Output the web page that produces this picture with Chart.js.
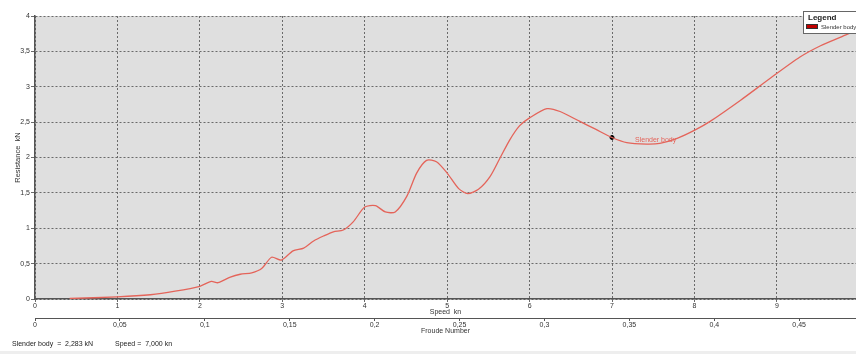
<!DOCTYPE html>
<html>
<head>
<meta charset="utf-8">
<script src="https://cdn.jsdelivr.net/npm/chart.js@4.4.1/dist/chart.umd.min.js"></script>
<style>
  html, body { margin: 0; padding: 0; background: #fff; }
  #wrap { width: 856px; height: 354px; }
</style>
</head>
<body>
<div id="wrap"><canvas id="resistanceChart" width="856" height="354"></canvas></div>
<script>
// values
const seriesName = "Slender body";
const speedKn = [0.42, 1.0, 1.4, 1.7, 2.0, 2.14, 2.22, 2.37, 2.49, 2.63, 2.75, 2.87, 2.99, 3.13, 3.26, 3.38, 3.5, 3.62, 3.74, 3.86,
  4.0, 4.13, 4.25, 4.37, 4.51, 4.63, 4.75, 4.87, 5.0, 5.14, 5.25, 5.38, 5.52, 5.64, 5.76, 5.88, 6.0, 6.21, 6.37, 6.61,
  6.8, 7.0, 7.18, 7.42, 7.58, 7.79, 8.01, 8.19, 8.56, 8.92, 9.28, 9.53, 9.83, 9.96];
const resistanceKn = [0.007, 0.03, 0.06, 0.11, 0.18, 0.25, 0.23, 0.31, 0.35, 0.37, 0.43, 0.59, 0.55, 0.68, 0.72, 0.82, 0.89, 0.95, 0.975, 1.09,
  1.30, 1.32, 1.23, 1.23, 1.45, 1.78, 1.96, 1.94, 1.78, 1.56, 1.49, 1.55, 1.73, 1.99, 2.25, 2.45, 2.56, 2.69, 2.65, 2.51,
  2.40, 2.283, 2.21, 2.19, 2.20, 2.27, 2.39, 2.51, 2.81, 3.12, 3.42, 3.58, 3.73, 3.80];
const speedTicks = [0, 1, 2, 3, 4, 5, 6, 7, 8, 9];
const froudeTicks = [0, 0.05, 0.1, 0.15, 0.2, 0.25, 0.3, 0.35, 0.4, 0.45];
const resistanceTicks = [0, 0.5, 1, 1.5, 2, 2.5, 3, 3.5, 4];
const cursorSpeed = [7.0];
const cursorResistance = [2.283];

const speedMax = 9.96;
const froudePerKnot = 0.04854;
const lineColor = "rgb(228, 100, 90)";
const gridColor = "#6a6a6a";
const axisColor = "#555";
const fontFamily = "'Liberation Sans', Arial, sans-serif";

const comma = (v) => String(Math.round(v * 1000) / 1000).replace(".", ",");

const plotBackground = {
  id: "plotBackground",
  beforeDraw(chart) {
    const { ctx, chartArea: a } = chart;
    ctx.save();
    ctx.fillStyle = "#dfdfdf";
    ctx.fillRect(a.left, a.top, a.right - a.left, a.bottom - a.top);
    ctx.restore();
  },
};

const overlay = {
  id: "overlay",
  afterDraw(chart) {
    const { ctx } = chart;
    const xs = chart.scales.x;
    const ys = chart.scales.y;
    ctx.save();

    // label next to cursor point
    const px = xs.getPixelForValue(cursorSpeed[0]);
    const py = ys.getPixelForValue(cursorResistance[0]);
    ctx.font = "7px " + fontFamily;
    ctx.fillStyle = lineColor;
    ctx.textBaseline = "middle";
    ctx.fillText(seriesName, px + 23, py + 3);

    // legend box
    ctx.fillStyle = "#fff";
    ctx.fillRect(803, 11, 60, 22);
    ctx.strokeStyle = "#666";
    ctx.lineWidth = 1;
    ctx.strokeRect(803.5, 11.5, 60, 22);
    ctx.fillStyle = "#222";
    ctx.font = "bold 8px " + fontFamily;
    ctx.fillText("Legend", 808, 18);
    ctx.fillStyle = "#c00000";
    ctx.fillRect(806, 24, 12, 5);
    ctx.strokeStyle = "#333";
    ctx.strokeRect(806.5, 24.5, 11, 4);
    ctx.fillStyle = "#333";
    ctx.font = "6px " + fontFamily;
    ctx.fillText(seriesName, 821, 27);

    // status line
    ctx.fillStyle = "#222";
    ctx.font = "7px " + fontFamily;
    ctx.fillText(seriesName + "  =  " + cursorResistance[0].toFixed(3).replace(".", ",") + " kN", 12, 344);
    ctx.fillText("Speed =  " + cursorSpeed[0].toFixed(3).replace(".", ",") + " kn", 115, 344);
    ctx.fillStyle = "#eeeeee";
    ctx.fillRect(0, 351, 856, 3);
    ctx.restore();
  },
};

const fitHorizontal = (axis) => {
  axis.height = 19;
  axis.paddingLeft = 0;
  axis.paddingRight = 0;
};

new Chart(document.getElementById("resistanceChart"), {
  type: "line",
  data: {
    datasets: [
      {
        label: seriesName,
        data: speedKn.map((s, i) => ({ x: s, y: resistanceKn[i] })),
        borderColor: lineColor,
        borderWidth: 1.3,
        pointRadius: 0,
        tension: 0.25,
        xAxisID: "x",
      },
      {
        label: "cursor",
        data: cursorSpeed.map((s, i) => ({ x: s, y: cursorResistance[i] })),
        showLine: false,
        pointRadius: 2,
        pointBackgroundColor: "#000",
        pointBorderColor: "#000",
        xAxisID: "x",
      },
    ],
  },
  options: {
    responsive: false,
    animation: false,
    devicePixelRatio: 1,
    layout: { autoPadding: false, padding: { top: 16, right: 0, bottom: 17, left: 0 } },
    plugins: { legend: { display: false }, tooltip: { enabled: false } },
    scales: {
      x: {
        type: "linear",
        position: "bottom",
        min: 0,
        max: speedMax,
        weight: 0,
        afterBuildTicks: (axis) => { axis.ticks = speedTicks.map((v) => ({ value: v })); },
        afterFit: fitHorizontal,
        ticks: { font: { size: 7, family: fontFamily }, color: "#333", padding: 0, maxRotation: 0, callback: (v) => comma(v) },
        grid: { color: gridColor, lineWidth: 1, tickLength: 3 },
        border: { color: axisColor, width: 1.5, dash: [2, 2] },
        title: { display: true, text: "Speed  kn", font: { size: 7, family: fontFamily }, color: "#333", padding: { top: 0, bottom: 2 } },
      },
      x2: {
        type: "linear",
        position: "bottom",
        min: 0,
        max: speedMax * froudePerKnot,
        weight: 1,
        afterBuildTicks: (axis) => { axis.ticks = froudeTicks.map((v) => ({ value: v })); },
        afterFit: fitHorizontal,
        ticks: { font: { size: 7, family: fontFamily }, color: "#333", padding: 0, maxRotation: 0, callback: (v) => comma(v) },
        grid: { drawOnChartArea: false, color: axisColor, tickLength: 3 },
        border: { color: axisColor, width: 1 },
        title: { display: true, text: "Froude Number", font: { size: 7, family: fontFamily }, color: "#333", padding: { top: 0, bottom: 2 } },
      },
      y: {
        type: "linear",
        min: 0,
        max: 4,
        afterBuildTicks: (axis) => { axis.ticks = resistanceTicks.map((v) => ({ value: v })); },
        afterFit: (axis) => { axis.width = 35; },
        ticks: { font: { size: 7, family: fontFamily }, color: "#333", padding: 1, callback: (v) => comma(v) },
        grid: { color: gridColor, lineWidth: 1, tickLength: 4 },
        border: { color: axisColor, width: 1.5, dash: [2, 2] },
        title: { display: true, text: "Resistance  kN", font: { size: 7.5, family: fontFamily }, color: "#333", padding: { top: 13, bottom: 0 } },
      },
    },
  },
  plugins: [plotBackground, overlay],
});
</script>
</body>
</html>
